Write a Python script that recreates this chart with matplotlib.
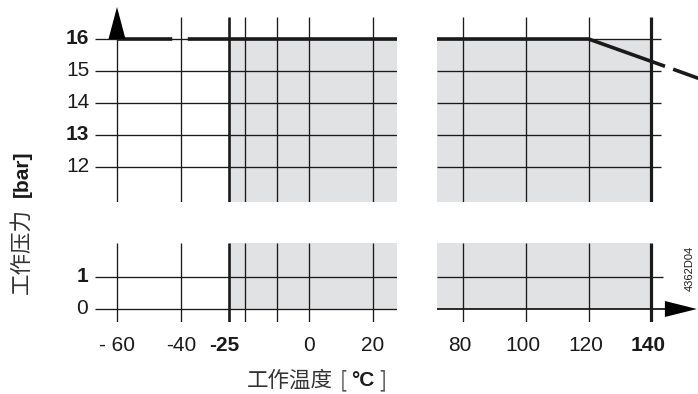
import matplotlib.pyplot as plt

plt.rcParams['font.family'] = ['Liberation Sans', 'DejaVu Sans']
plt.rcParams['lines.solid_capstyle'] = 'butt'
plt.rcParams['lines.dash_capstyle'] = 'butt'

W, H = 698, 394

# grid temperatures (°C) and pressures (bar)
t_grid_left = [-60, -40, -20, -10, 0, 20]
t_grid_right = [80, 100, 120]
t_low, t_high = -25, 140
p_grid_upper = [16, 15, 14, 13, 12]
p_grid_lower = [1, 0]

x_ticks_left = [-60, -40, -25, 0, 20]
x_labels_left = ['- 60', '-40', '-25', '0', '20']
x_ticks_right = [80, 100, 120, 140]
x_labels_right = ['80', '100', '120', '140']
y_ticks_upper = [16, 15, 14, 13, 12]
y_ticks_lower = [1, 0]
bold_labels = {'-25', '140', '16', '13', '1'}

# maximum working pressure vs temperature
curve_t = [-25, 120, 140]
curve_p = [16, 16, 15.3]
cold_t = [-60, -25]
cold_p = [16, 16]
hot_t = [140, 155]
hot_p = [15.3, 14.77]

shade = '#e1e2e4'
ink = '#1a1a1a'
thin = 0.95
tick_fs = 15

fig = plt.figure(figsize=(W / 100, H / 100), dpi=100)

# pixel mapping of each panel: x = x0 + k*(T - t0), y = y0 - 32*(P - p0)
left_map = (309, 3.2, 0)
right_map = (463, 3.14, 80)
upper_map = (39, 16)
lower_map = (309, 0)
left_xlim = (-67, 27.5)
right_xlim = (71.7, 155.3)
upper_ylim = (10.9, 16.7)
lower_ylim = (-0.42, 2.05)


def make_panel(xlim, ylim, xm, ym):
    x0 = xm[0] + xm[1] * (xlim[0] - xm[2])
    x1 = xm[0] + xm[1] * (xlim[1] - xm[2])
    ytop = ym[0] - 32 * (ylim[1] - ym[1])
    ybot = ym[0] - 32 * (ylim[0] - ym[1])
    ax = fig.add_axes([x0 / W, 1 - ybot / H, (x1 - x0) / W, (ybot - ytop) / H])
    ax.set_xlim(xlim)
    ax.set_ylim(ylim)
    ax.axis('off')
    return ax


ax_ul = make_panel(left_xlim, upper_ylim, left_map, upper_map)
ax_ur = make_panel(right_xlim, upper_ylim, right_map, upper_map)
ax_ll = make_panel(left_xlim, lower_ylim, left_map, lower_map)
ax_lr = make_panel(right_xlim, lower_ylim, right_map, lower_map)

# shaded permitted area
ax_ul.fill_between([t_low, left_xlim[1]], upper_ylim[0], 16, color=shade, lw=0, zorder=0)
ax_ur.fill_between([right_xlim[0], t_high], upper_ylim[0], 16, color=shade, lw=0, zorder=0)
ax_ll.fill_between([t_low, left_xlim[1]], 0, lower_ylim[1], color=shade, lw=0, zorder=0)
ax_lr.fill_between([right_xlim[0], t_high], 0, lower_ylim[1], color=shade, lw=0, zorder=0)

# horizontal grid
ax_ul.hlines(p_grid_upper, left_xlim[0], left_xlim[1], color=ink, lw=thin)
ax_ur.hlines(p_grid_upper, right_xlim[0], 143.2, color=ink, lw=thin)
ax_ll.hlines(p_grid_lower, left_xlim[0], left_xlim[1], color=ink, lw=thin)
ax_lr.hlines(p_grid_lower[0], right_xlim[0], 143.8, color=ink, lw=thin)
ax_lr.hlines(p_grid_lower[1], right_xlim[0], 145, color=ink, lw=1.3)

# vertical grid
ax_ul.vlines(t_grid_left[0], upper_ylim[0], 16, color=ink, lw=thin)
ax_ul.vlines(t_grid_left[1:], upper_ylim[0], upper_ylim[1], color=ink, lw=thin)
ax_ur.vlines(t_grid_right, upper_ylim[0], upper_ylim[1], color=ink, lw=thin)
ax_ll.vlines(t_grid_left, lower_ylim[0], lower_ylim[1], color=ink, lw=thin)
ax_lr.vlines(t_grid_right, lower_ylim[0], lower_ylim[1], color=ink, lw=thin)

# temperature limits
ax_ul.vlines(t_low, upper_ylim[0], upper_ylim[1], color=ink, lw=1.9)
ax_ll.vlines(t_low, lower_ylim[0], lower_ylim[1], color=ink, lw=1.9)
ax_ur.vlines(t_high, upper_ylim[0], upper_ylim[1], color=ink, lw=2.3)
ax_lr.vlines(t_high, lower_ylim[0], lower_ylim[1], color=ink, lw=2.3)

# pressure curve
for ax in (ax_ul, ax_ur):
    ax.plot(curve_t, curve_p, color=ink, lw=2.6, zorder=5)
ax_ul.plot(cold_t, cold_p, color=ink, lw=2.6, ls=(0, (15.3, 4.3)), zorder=5)
ax_ur.plot(hot_t, hot_p, color=ink, lw=2.6, ls=(0, (4.0, 2.4, 40, 1)), zorder=5,
           clip_on=False)

# axis arrows
aw = 8.5 / 3.2
ax_ul.fill([-60 - aw, -60 + aw, -60], [16, 16, 17], color='black', lw=0,
           clip_on=False, zorder=6)
ax_lr.fill([144.3, 144.3, 154.5], [-0.25, 0.25, 0], color='black', lw=0,
           clip_on=False, zorder=6)

# tick labels
for t, lab in zip(x_ticks_left, x_labels_left):
    dx = -1.5 if lab == '-25' else 0
    ax_ll.text(t + dx, -1.13, lab, ha='center', va='center', fontsize=tick_fs,
               weight='bold' if lab in bold_labels else 'normal', color=ink)
for t, lab in zip(x_ticks_right, x_labels_right):
    ax_lr.text(t - 0.9, -1.13, lab, ha='center', va='center', fontsize=tick_fs,
               weight='bold' if lab in bold_labels else 'normal', color=ink)
for p in y_ticks_upper:
    ax_ul.text(-68.7, p, str(p), ha='right', va='center', fontsize=tick_fs,
               weight='bold' if str(p) in bold_labels else 'normal', color=ink)
for p in y_ticks_lower:
    ax_ll.text(-69.0, p, str(p), ha='right', va='center', fontsize=tick_fs,
               weight='bold' if str(p) in bold_labels else 'normal', color=ink)

cjk = ['Noto Sans CJK SC', 'DejaVu Sans']


def ptext(x, y, s, **kw):
    fig.text(x / W, 1 - y / H, s, **kw)


# axis titles
ptext(247, 381, '工作温度', family=cjk, fontsize=15.5, ha='left', va='center', color='#333333')
ptext(340, 380, '[', family=cjk, fontsize=15, ha='left', va='center', color='#555555')
ptext(351, 380, '°C', fontsize=15, weight='bold', ha='left', va='center', color=ink)
ptext(379, 380, ']', family=cjk, fontsize=15, ha='left', va='center', color='#555555')

ptext(22, 294, '工作压力', family=cjk, fontsize=15.5, rotation=90, ha='center',
      va='bottom', color='#333333')
ptext(22, 197, '[bar]', fontsize=15, weight='bold', rotation=90, ha='center',
      va='bottom', color=ink)

ptext(690, 268, '4362D04', fontsize=8, rotation=90, ha='center', va='center', color=ink)

fig.savefig('out.png', dpi=100)
